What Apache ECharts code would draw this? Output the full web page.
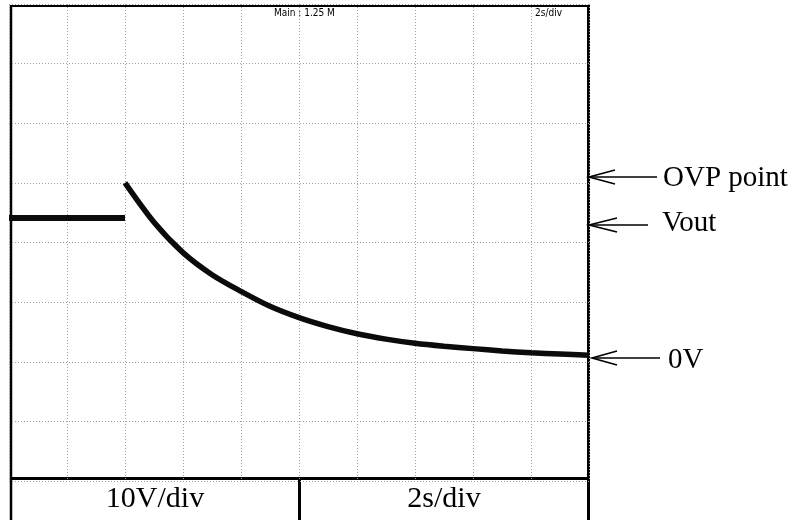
<!DOCTYPE html>
<html>
<head>
<meta charset="utf-8">
<style>
  html, body { margin: 0; padding: 0; background: #fff; }
  #chart { width: 796px; height: 520px; }
</style>
<script src="https://cdn.jsdelivr.net/npm/echarts@6/dist/echarts.min.js"></script>
</head>
<body>
<div id="chart"></div>
<script>
// Output voltage before the over-voltage trip (seconds, volts)
const holdTime = [0, 4];
const holdVolts = [24.1, 24.1];

// Discharge after the OVP trip (seconds, volts)
const decayTime = [4, 5, 6, 7, 8, 9, 10, 11, 12, 13, 14, 15, 16, 17, 18, 19, 20];
const decayVolts = [30, 23.4, 18.3, 14.6, 11.8, 9.3, 7.4, 5.9, 4.7, 3.8, 3.1, 2.6, 2.2, 1.8, 1.5, 1.3, 1.1];

// Scope settings shown in the footer and header
const footerLabels = ['10V/div', '2s/div'];
const headerLabels = ['Main : 1.25 M', '2s/div'];
const levelLabels = ['OVP point', 'Vout', '0V'];

const pairs = (xs, ys) => xs.map((x, i) => [x, ys[i]]);

const chart = echarts.init(document.getElementById('chart'), null, { renderer: 'canvas' });

const gridStyle = { show: true, lineStyle: { color: '#a0a0a0', width: 1, type: [1, 2] } };
const serif = '"Liberation Serif", "Times New Roman", serif';
const narrow = '"Liberation Sans Narrow", "DejaVu Sans Condensed", "Liberation Sans", sans-serif';

function arrow(tipX, tipY, tailX, barbX) {
  return [
    { type: 'line', shape: { x1: tipX, y1: tipY, x2: tailX, y2: tipY }, style: { stroke: '#000', lineWidth: 1.6 } },
    { type: 'polyline', shape: { points: [[barbX, tipY - 7], [tipX, tipY], [barbX, tipY + 7]] }, style: { stroke: '#000', fill: 'none', lineWidth: 1.6 } }
  ];
}

const option = {
  animation: false,
  backgroundColor: '#fff',
  grid: { left: 9, top: 4, width: 580, height: 477, show: false },
  xAxis: {
    type: 'value', min: 0, max: 20, interval: 2,
    axisLine: { show: false }, axisTick: { show: false }, axisLabel: { show: false },
    splitLine: gridStyle
  },
  yAxis: {
    type: 'value', min: -20, max: 60, interval: 10,
    axisLine: { show: false }, axisTick: { show: false }, axisLabel: { show: false },
    splitLine: gridStyle
  },
  series: [
    {
      type: 'line', data: pairs(holdTime, holdVolts), symbol: 'none',
      lineStyle: { color: '#0b0b0b', width: 6 }
    },
    {
      type: 'line', data: pairs(decayTime, decayVolts), symbol: 'none',
      smooth: 0.3,
      lineStyle: { color: '#0b0b0b', width: 5.5 }
    }
  ],
  graphic: [
    // screen frame and footer table
    { type: 'line', shape: { x1: 10, y1: 6, x2: 590, y2: 6 }, style: { stroke: '#000', lineWidth: 2 } },
    { type: 'line', shape: { x1: 11, y1: 5, x2: 11, y2: 520 }, style: { stroke: '#000', lineWidth: 2.5 } },
    { type: 'line', shape: { x1: 588.5, y1: 5, x2: 588.5, y2: 520 }, style: { stroke: '#000', lineWidth: 3 } },
    { type: 'line', shape: { x1: 10, y1: 478.5, x2: 590, y2: 478.5 }, style: { stroke: '#000', lineWidth: 3 } },
    { type: 'line', shape: { x1: 299.5, y1: 478, x2: 299.5, y2: 520 }, style: { stroke: '#000', lineWidth: 3 } },
    { type: 'text', x: 155, y: 499, style: { text: footerLabels[0], font: '30px ' + serif, fill: '#000', align: 'center', verticalAlign: 'middle' } },
    { type: 'text', x: 444, y: 499, style: { text: footerLabels[1], font: '30px ' + serif, fill: '#000', align: 'center', verticalAlign: 'middle' } },
    // scope header readouts
    { type: 'text', x: 274, y: 13, style: { text: headerLabels[0], font: '10px ' + narrow, fill: '#000', align: 'left', verticalAlign: 'middle' } },
    { type: 'text', x: 535, y: 13, style: { text: headerLabels[1], font: '10px ' + narrow, fill: '#000', align: 'left', verticalAlign: 'middle' } },
    // level markers
    ...arrow(589, 177, 657, 615),
    ...arrow(589, 225, 648, 617),
    ...arrow(592, 358, 660, 617),
    { type: 'text', x: 663, y: 178, style: { text: levelLabels[0], font: '29px ' + serif, fill: '#000', align: 'left', verticalAlign: 'middle' } },
    { type: 'text', x: 662, y: 223, style: { text: levelLabels[1], font: '29px ' + serif, fill: '#000', align: 'left', verticalAlign: 'middle' } },
    { type: 'text', x: 668, y: 360, style: { text: levelLabels[2], font: '29px ' + serif, fill: '#000', align: 'left', verticalAlign: 'middle' } }
  ]
};

chart.setOption(option);
</script>
</body>
</html>
